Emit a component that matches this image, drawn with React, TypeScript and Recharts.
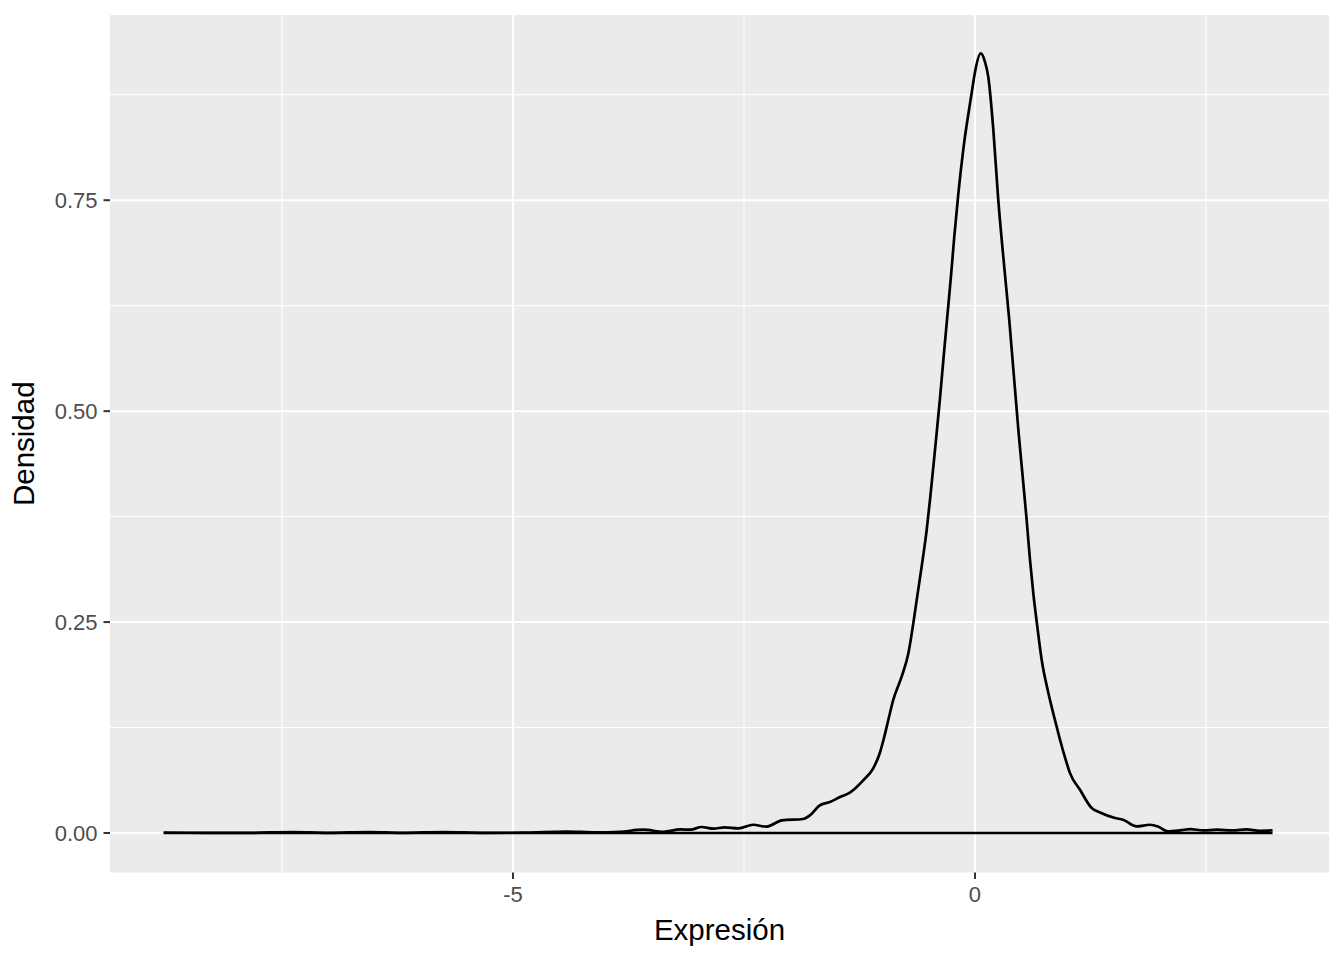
import React from "react";
import { ComposedChart, Line, XAxis, YAxis, CartesianGrid, Label } from "recharts";

// Density curve: x = Expresión, y = Densidad
const curveX: number[] = [
  -8.78, -8.3, -7.9, -7.38, -7.0, -6.55, -6.2, -5.76, -5.3, -4.9, -4.42, -4.1,
  -3.84, -3.59, -3.37, -3.19, -3.08, -2.96, -2.83, -2.71, -2.56, -2.4, -2.26,
  -2.09, -1.86, -1.79, -1.68, -1.57, -1.46, -1.35, -1.21, -1.1, -1.03, -0.99,
  -0.938, -0.884, -0.793, -0.721, -0.667, -0.631, -0.577, -0.523, -0.487,
  -0.451, -0.415, -0.379, -0.343, -0.3, -0.26, -0.224, -0.181, -0.127,
  -0.036, 0.0, 0.062, 0.108, 0.144, 0.198, 0.252, 0.306, 0.371, 0.469, 0.516,
  0.559, 0.595, 0.631, 0.674, 0.722, 0.794, 0.884, 0.92, 0.981, 1.028, 1.136,
  1.263, 1.353, 1.515, 1.602, 1.75, 1.894, 1.98, 2.09, 2.22, 2.33, 2.47, 2.62,
  2.79, 2.94, 3.08, 3.22,
];
const curveY: number[] = [
  0.0005, 0.0002, 0.0001, 0.0012, 0.0002, 0.0012, 0.0002, 0.0012, 0.0002,
  0.0004, 0.0018, 0.0008, 0.0015, 0.0039, 0.0015, 0.0043, 0.0039, 0.0071,
  0.0051, 0.0067, 0.0055, 0.0098, 0.0075, 0.015, 0.0166, 0.0205, 0.0327,
  0.0367, 0.0427, 0.0481, 0.0623, 0.077, 0.0948, 0.1105, 0.134, 0.158, 0.1856,
  0.213, 0.249, 0.276, 0.316, 0.359, 0.395, 0.434, 0.474, 0.515, 0.56, 0.612,
  0.66, 0.707, 0.757, 0.81, 0.877, 0.902, 0.924, 0.914, 0.896, 0.834,
  0.75, 0.683, 0.608, 0.478, 0.4225, 0.371, 0.324, 0.284, 0.245, 0.205,
  0.166, 0.126, 0.1105, 0.087, 0.071, 0.0513, 0.0296, 0.0244, 0.0178, 0.0158,
  0.0078, 0.0098, 0.0078, 0.0019, 0.0031, 0.0047, 0.0031, 0.0039, 0.0031,
  0.0043, 0.0027, 0.0031,
];

const xTicks: number[] = [-5, 0];
const xMinor: number[] = [-7.5, -2.5, 2.5];
const yTicks: number[] = [0, 0.25, 0.5, 0.75];
const yMinor: number[] = [0.125, 0.375, 0.625, 0.875];
const xDomain: number[] = [-9.361, 3.831];
const yDomain: number[] = [-0.0468, 0.9695];
const xTitle = "Expresión";
const yTitle = "Densidad";

const curveData = curveX.map((x, i) => ({ x, y: curveY[i] }));
const baseData = [
  { x: curveX[0], y: 0 },
  { x: curveX[curveX.length - 1], y: 0 },
];

const FONT = '"Liberation Sans", Arial, Helvetica, sans-serif';

const XTitle = (props: any) => {
  const vb = props.viewBox || {};
  return (
    <text
      x={vb.x + vb.width / 2}
      y={vb.y + 67.5}
      textAnchor="middle"
      fontFamily={FONT}
      fontSize={29.5}
      fill="#000000"
    >
      {xTitle}
    </text>
  );
};

const YTitle = (props: any) => {
  const vb = props.viewBox || {};
  const cx = 25.5;
  const cy = vb.y + vb.height / 2;
  return (
    <text
      x={cx}
      y={cy}
      transform={`rotate(-90, ${cx}, ${cy})`}
      textAnchor="middle"
      fontFamily={FONT}
      fontSize={29.5}
      fill="#000000"
    >
      {yTitle}
    </text>
  );
};

export default function App() {
  return (
    <div style={{ width: 1336, height: 952 }}>
      <ComposedChart
        width={1336}
        height={952}
        margin={{ top: 7, right: 15, bottom: 0, left: 0 }}
      >
        <CartesianGrid
          fill="#EBEBEB"
          stroke="#FFFFFF"
          strokeWidth={1}
          horizontalValues={yMinor}
          verticalValues={xMinor}
        />
        <CartesianGrid
          fill="none"
          stroke="#FFFFFF"
          strokeWidth={2}
          horizontalValues={yTicks}
          verticalValues={xTicks}
        />
        <XAxis
          type="number"
          dataKey="x"
          domain={xDomain}
          ticks={xTicks}
          allowDataOverflow
          height={87.5}
          axisLine={false}
          tickLine={{ stroke: "#333333", strokeWidth: 2 }}
          tickSize={6.5}
          tickMargin={7}
          tick={{ fill: "#4D4D4D", fontSize: 22, fontFamily: FONT }}
        >
          <Label content={XTitle} />
        </XAxis>
        <YAxis
          type="number"
          dataKey="y"
          domain={yDomain}
          ticks={yTicks}
          allowDataOverflow
          width={102}
          axisLine={false}
          tickLine={{ stroke: "#333333", strokeWidth: 2 }}
          tickSize={6.5}
          tickMargin={6}
          tickFormatter={(v: number) => v.toFixed(2)}
          tick={{ fill: "#4D4D4D", fontSize: 22, fontFamily: FONT }}
        >
          <Label content={YTitle} />
        </YAxis>
        <Line
          data={baseData}
          dataKey="y"
          type="linear"
          stroke="#000000"
          strokeWidth={2.7}
          dot={false}
          activeDot={false}
          isAnimationActive={false}
        />
        <Line
          data={curveData}
          dataKey="y"
          type="monotone"
          stroke="#000000"
          strokeWidth={2.7}
          dot={false}
          activeDot={false}
          isAnimationActive={false}
        />
      </ComposedChart>
    </div>
  );
}
